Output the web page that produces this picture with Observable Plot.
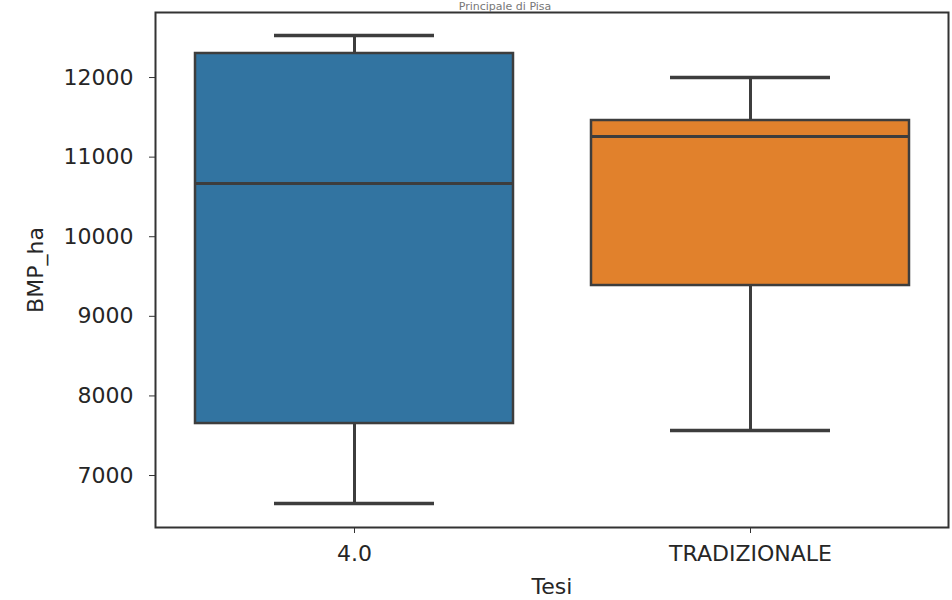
<!DOCTYPE html>
<html>
<head>
<meta charset="utf-8">
<script src="https://cdn.jsdelivr.net/npm/d3@7"></script>
<script src="https://cdn.jsdelivr.net/npm/@observablehq/plot@0.6"></script>
<style>
  html, body { margin: 0; padding: 0; background: #fff; }
  #chart svg { display: block; }
</style>
</head>
<body>
<div id="chart"></div>
<script>
const title = "Principale di Pisa";
const categories = ["4.0", "TRADIZIONALE"];
const whiskerLow = [6648, 7565];
const q1 = [7653, 9387];
const median = [10668, 11259];
const q3 = [12302, 11460];
const whiskerHigh = [12528, 12000];
const yTicks = [7000, 8000, 9000, 10000, 11000, 12000];
const colors = ["#3274a1", "#e1812c"];

const data = categories.map((c, i) => ({
  cat: c, lo: whiskerLow[i], q1: q1[i], med: median[i], q3: q3[i], hi: whiskerHigh[i], color: colors[i]
}));

const line = "#3d3d3d";
const txt = "#262626";
const chart = Plot.plot({
  width: 952,
  height: 600,
  marginLeft: 155,
  marginRight: 4,
  marginTop: 12,
  marginBottom: 73,
  style: { fontFamily: "DejaVu Sans, sans-serif", fontSize: "22px", color: txt, background: "#fff" },
  x: { domain: categories, padding: 0 },
  y: { domain: [6347, 12817] },
  color: { type: "identity" },
  marks: [
    Plot.ruleX(data, { x: "cat", y1: "q3", y2: "hi", stroke: line, strokeWidth: 3 }),
    Plot.ruleX(data, { x: "cat", y1: "lo", y2: "q1", stroke: line, strokeWidth: 3 }),
    Plot.tickY(data, { x: "cat", y: "hi", stroke: line, strokeWidth: 3.5, insetLeft: 118, insetRight: 118 }),
    Plot.tickY(data, { x: "cat", y: "lo", stroke: line, strokeWidth: 3.5, insetLeft: 118, insetRight: 118 }),
    Plot.barY(data, { x: "cat", y1: "q1", y2: "q3", fill: "color", stroke: line, strokeWidth: 2.5, insetLeft: 39, insetRight: 39 }),
    Plot.tickY(data, { x: "cat", y: "med", stroke: line, strokeWidth: 3, insetLeft: 39, insetRight: 39 }),
    Plot.frame({ stroke: "#333", strokeWidth: 2 }),
    Plot.axisY({ ticks: yTicks, tickFormat: "d", tickSize: 6, tickPadding: 16, fontSize: 22, stroke: "#333", fill: txt,
      label: "BMP_ha", labelAnchor: "center", labelArrow: "none", labelOffset: 128 }),
    Plot.axisX({ tickSize: 6, tickPadding: 12, fontSize: 22, stroke: "#333", fill: txt,
      label: "Tesi", labelAnchor: "center", labelArrow: "none", labelOffset: 66 }),
    Plot.text([title], { frameAnchor: "top", dx: -47, dy: -3, lineAnchor: "bottom", fontSize: 11, fill: "#777" })
  ]
});
document.getElementById("chart").appendChild(chart);
</script>
</body>
</html>
